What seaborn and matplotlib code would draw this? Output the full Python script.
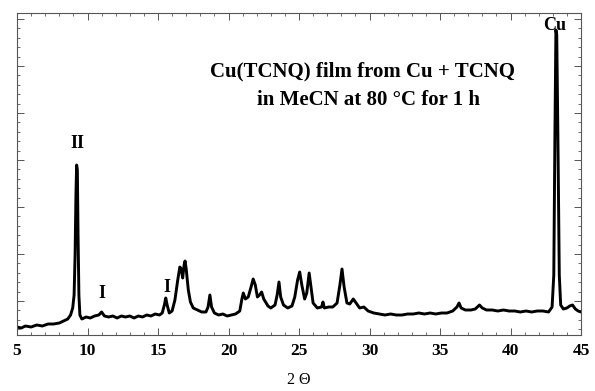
import matplotlib
matplotlib.use("Agg")
import matplotlib.pyplot as plt
from matplotlib.ticker import MultipleLocator
import seaborn as sns
import pandas as pd

two_theta = [5.0, 5.3, 5.6, 6.0, 6.4, 6.8, 7.2, 7.6, 8.0, 8.3, 8.6, 8.8, 8.95, 9.05, 9.12, 9.18,
             9.23, 9.28, 9.33, 9.39, 9.46, 9.6, 9.9, 10.2, 10.5, 10.8, 11.0, 11.2, 11.5, 11.8,
             12.1, 12.4, 12.7, 13.0, 13.3, 13.6, 13.9, 14.2, 14.5, 14.8, 15.1, 15.3, 15.45, 15.55,
             15.65, 15.8, 16.0, 16.2, 16.4, 16.55, 16.65, 16.75, 16.85, 16.92, 17.0, 17.15, 17.3,
             17.5, 17.8, 18.1, 18.4, 18.55, 18.68, 18.8, 19.0, 19.3, 19.6, 19.9, 20.2, 20.5, 20.8,
             20.95, 21.05, 21.2, 21.4, 21.6, 21.75, 21.9, 22.05, 22.2, 22.35, 22.5, 22.8, 23.0,
             23.3, 23.45, 23.58, 23.7, 23.9, 24.2, 24.5, 24.7, 24.9, 25.05, 25.2, 25.4, 25.55,
             25.72, 25.85, 26.0, 26.3, 26.6, 26.7, 26.8, 27.1, 27.4, 27.7, 27.9, 28.05, 28.2,
             28.4, 28.6, 28.85, 29.0, 29.3, 29.6, 29.9, 30.3, 30.7, 31.1, 31.5, 31.9, 32.3, 32.7,
             33.1, 33.5, 33.9, 34.3, 34.7, 35.1, 35.5, 35.9, 36.2, 36.35, 36.5, 36.8, 37.2, 37.5,
             37.8, 38.0, 38.3, 38.7, 39.1, 39.5, 39.9, 40.3, 40.7, 41.1, 41.5, 41.9, 42.3, 42.7,
             42.95, 43.07, 43.15, 43.22, 43.28, 43.36, 43.46, 43.56, 43.75, 44.0, 44.2, 44.4, 44.6,
             44.8, 45.0]
intensity = [8, 7, 9, 8, 10, 9, 11, 11, 12, 14, 16, 20, 27, 40, 80, 140,
             170, 165, 100, 40, 20, 16, 18, 17, 19, 20, 23, 19, 18, 19,
             17, 19, 18, 19, 17, 19, 18, 20, 19, 21, 20, 22, 30, 37,
             30, 22, 24, 35, 55, 68, 66, 57, 70, 74, 66, 45, 33,
             27, 25, 23, 23, 28, 40, 28, 22, 20, 21, 19, 20, 21, 24,
             36, 42, 36, 38, 48, 56, 50, 38, 40, 43, 36, 29, 27,
             30, 40, 53, 38, 30, 27, 29, 38, 55, 63, 50, 36, 42,
             62, 48, 32, 27, 28, 33, 27, 28, 28, 32, 50, 66, 48,
             32, 31, 36, 33, 27, 28, 24, 22, 21, 20, 21, 20, 20, 21,
             21, 22, 21, 22, 21, 22, 22, 24, 28, 32, 27, 25, 25, 26,
             30, 27, 25, 25, 24, 25, 24, 24, 23, 24, 23, 24, 24, 23,
             28, 60, 200, 305, 300, 200, 60, 30, 26, 27, 29, 30, 26,
             24, 23]

x_ticks = [5, 10, 15, 20, 25, 30, 35, 40, 45]
peak_labels = ["II", "I", "I", "Cu"]
peak_label_x = [9.26, 11.0, 15.6, 43.15]
peak_label_y = [192, 42, 47, 310]
title_lines = ["Cu(TCNQ) film from Cu + TCNQ", "in MeCN at 80 \u00b0C for 1 h"]

sns.set_style("ticks")
plt.rcParams["font.family"] = ["Liberation Serif", "DejaVu Serif"]
plt.rcParams["text.color"] = "black"
plt.rcParams["xtick.labelcolor"] = "black"
plt.rcParams["axes.labelcolor"] = "black"

df = pd.DataFrame({"two_theta": two_theta, "intensity": intensity})

fig = plt.figure(figsize=(5.95, 3.91), dpi=100)
ax = fig.add_axes([17 / 595, 1 - 335 / 391, 564 / 595, 322 / 391])
sns.lineplot(data=df, x="two_theta", y="intensity", ax=ax, color="black",
             linewidth=2.1, sort=False, estimator=None)

ax.set_xlim(5, 45)
ax.set_ylim(0, 322)
ax.set_xticks(x_ticks)
ax.set_xticklabels([str(t) for t in x_ticks], fontweight="bold", fontsize=12.5, color="black")
ax.xaxis.set_minor_locator(MultipleLocator(1))
ax.yaxis.set_major_locator(MultipleLocator(47, offset=34))
ax.yaxis.set_minor_locator(MultipleLocator(9.4, offset=34))
ax.set_yticklabels([])
ax.tick_params(axis="both", which="major", direction="in", length=5, width=0.7,
               top=True, right=True, color="#555555")
ax.tick_params(axis="both", which="minor", direction="in", length=2.5, width=0.6,
               top=True, right=True, color="#555555")
ax.tick_params(axis="x", which="major", pad=6)
for s in ax.spines.values():
    s.set_linewidth(0.8)
    s.set_color("#555555")
    s.set_visible(True)

ax.set_xlabel("2 \u0398", fontsize=11.5, labelpad=9, color="black")
ax.set_ylabel("")

for lab, px, py in zip(peak_labels, peak_label_x, peak_label_y):
    ax.text(px, py, lab, ha="center", va="center", fontsize=13, fontweight="bold", color="black")

ax.text(29.47, 264, title_lines[0], ha="center", va="center", fontsize=15, fontweight="bold", color="black")
ax.text(29.9, 235, title_lines[1], ha="center", va="center", fontsize=15, fontweight="bold", color="black")

fig.savefig("out.png", dpi=100)
